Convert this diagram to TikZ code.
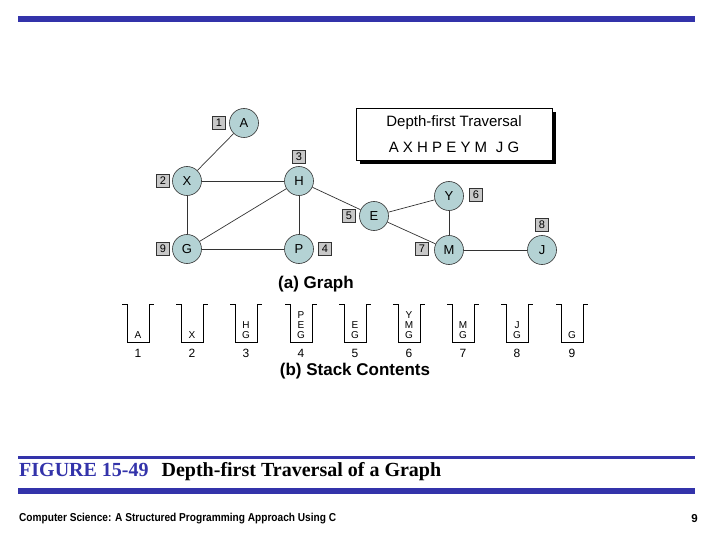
\documentclass[tikz,border=0pt]{standalone}
\usepackage{fontspec}
\setmainfont{Liberation Sans}
\newfontfamily\capfont{Liberation Serif}
\definecolor{navy}{RGB}{51,51,170}
\definecolor{vfill}{RGB}{180,210,212}
\definecolor{nfill}{RGB}{200,200,200}
\begin{document}
\begin{tikzpicture}[x=1pt,y=-1pt,
  vert/.style={circle,draw=black!80,line width=0.6pt,fill=vfill,minimum size=29pt,inner sep=0pt,font=\fontsize{13}{13}\selectfont},
  numbox/.style={rectangle,draw=black!80,line width=0.6pt,fill=nfill,minimum size=13.5pt,inner sep=0pt,font=\fontsize{11}{11}\selectfont},
  edge/.style={draw=black!80,line width=0.7pt},
  stk/.style={draw=black,line width=1pt},
  stxt/.style={font=\fontsize{10}{10}\selectfont,align=center,inner sep=0pt,anchor=base},
  snum/.style={font=\fontsize{12}{12}\selectfont,inner sep=0pt}]
\useasboundingbox (0,0) rectangle (720,540);
% bars
\fill[navy] (18,16) rectangle (695,22);
\fill[navy] (18,456) rectangle (695,459);
\fill[navy] (18,488) rectangle (695,494);
% vertices
\node[vert] (A) at (244,123) {A};
\node[vert] (X) at (187,181) {X};
\node[vert] (H) at (299,181) {H};
\node[vert] (E) at (374,216) {E};
\node[vert] (Y) at (449,196) {Y};
\node[vert] (G) at (187,249) {G};
\node[vert] (P) at (299,249) {P};
\node[vert] (M) at (449,250) {M};
\node[vert] (J) at (542,250) {J};
% order boxes
\node[numbox] (n1) at (219,123) {1};
\node[numbox] (n2) at (163,181) {2};
\node[numbox] (n3) at (299,157) {3};
\node[numbox] (n4) at (325,249) {4};
\node[numbox] (n5) at (349,216) {5};
\node[numbox] (n6) at (476,195) {6};
\node[numbox] (n7) at (422,249) {7};
\node[numbox] (n8) at (542,225) {8};
\node[numbox] (n9) at (163,249) {9};
% edges
\draw[edge] (A) -- (X);
\draw[edge] (X) -- (H);
\draw[edge] (X) -- (G);
\draw[edge] (H) -- (G);
\draw[edge] (H) -- (P);
\draw[edge] (G) -- (P);
\draw[edge] (H) -- (E);
\draw[edge] (E) -- (Y);
\draw[edge] (E) -- (M);
\draw[edge] (Y) -- (M);
\draw[edge] (M) -- (J);
% traversal box
\fill[black] (360,112) rectangle (556,164);
\node[draw=black,line width=0.8pt,fill=white,minimum width=196pt,minimum height=52pt,inner sep=0pt] (tbox) at (454,134) {};
\node[font=\fontsize{15}{15}\selectfont] (t1) at (454,123) {Depth-first Traversal};
\node[font=\fontsize{15}{15}\selectfont] (t2) at (454,147) {A X H P E Y M\hspace{0.3em} J G};
% titles
\node[font=\bfseries\fontsize{17}{17}\selectfont] (ta) at (316,284) {(a) Graph};
\node[font=\bfseries\fontsize{17}{17}\selectfont] (tb) at (355,371) {(b) Stack Contents};
% stacks
\foreach \cx/\txt/\n in {138/A/1,192/X/2,246/H\\G/3,301/P\\E\\G/4,355/E\\G/5,409/Y\\M\\G/6,463/M\\G/7,517/J\\G/8,572/G/9}{
  \draw[stk] (\cx-16,304) -- (\cx-11,304) -- (\cx-11,342) -- (\cx+11,342) -- (\cx+11,304) -- (\cx+16,304);
  \node[stxt] (s\n) at (\cx,338) {\txt};
  \node[snum] (k\n) at (\cx,353) {\n};
}
% caption
\node[anchor=west,inner sep=0pt,font=\capfont\bfseries\fontsize{20}{20}\selectfont] (cap) at (19,472) {\textcolor{navy}{FIGURE 15-49}\hspace{0.4em} Depth-first Traversal of a Graph};
\node[anchor=west,inner sep=0pt,xscale=0.88,font=\bfseries\fontsize{11.5}{11.5}\selectfont] (foot) at (19,519) {Computer Science: A Structured Programming Approach Using C};
\node[anchor=east,inner sep=0pt,font=\bfseries\fontsize{11.5}{11.5}\selectfont] (pg) at (698,519) {9};
\end{tikzpicture}
\end{document}
